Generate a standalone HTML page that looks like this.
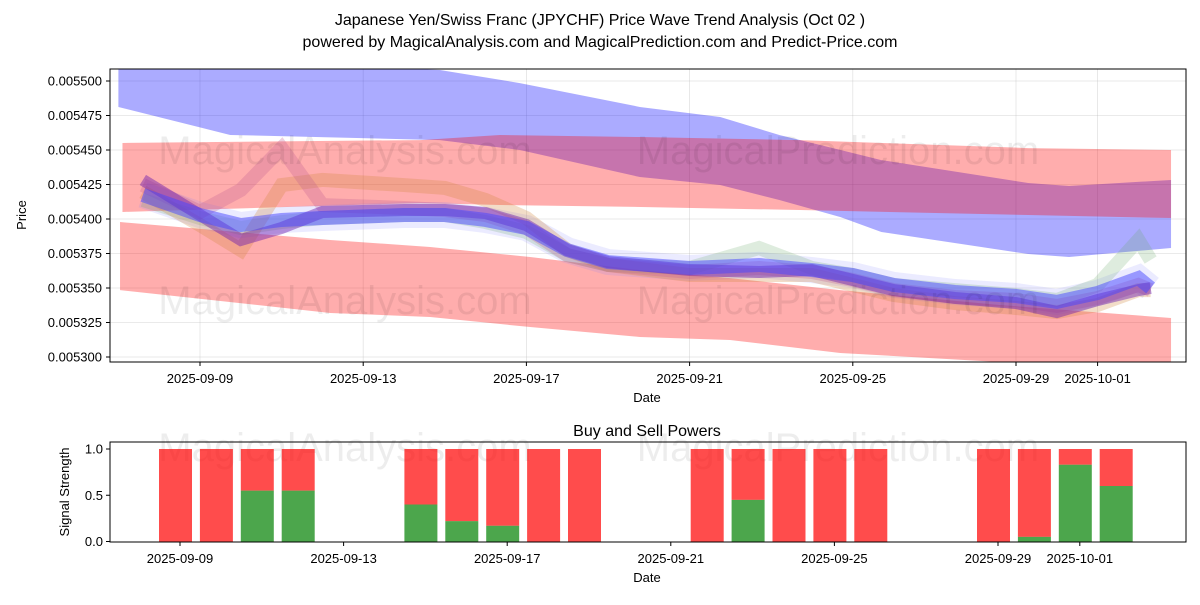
<!DOCTYPE html>
<html><head><meta charset="utf-8"><style>
body{margin:0;background:#fff;}
svg text{font-family:"Liberation Sans","DejaVu Sans",sans-serif;fill:#000;}
</style></head><body>
<svg id="chart" width="1200" height="600" xmlns="http://www.w3.org/2000/svg">
<rect width="1200" height="600" fill="#fff"/>
<text x="600" y="25" font-size="16" text-anchor="middle">Japanese Yen/Swiss Franc (JPYCHF) Price Wave Trend Analysis (Oct 02 )</text>
<text x="600" y="47" font-size="16" text-anchor="middle">powered by MagicalAnalysis.com and MagicalPrediction.com and Predict-Price.com</text>
<g id="topg"></g>
<g id="botg"></g>
</svg>
<script>
// ---- price chart data (days offset from 2025-09-09) ----
const blueBandDays=[-2.0,0.74,5.88,7.84,10.78,12.75,14.2,15.7,16.7,20.3,21.3,23.8];
const blueBandTop=[0.0055225,0.0055138,0.0055080,0.0054985,0.0054812,0.0054739,0.0054609,0.0054500,0.0054427,0.0054261,0.0054239,0.0054283];
const blueBandBot=[0.0054812,0.0054609,0.0054572,0.0054500,0.0054304,0.0054246,0.0054138,0.0054014,0.0053906,0.0053746,0.0053725,0.0053790];
const redUpDays=[-1.9,5.4,7.35,10.8,14.7,20.3,23.8];
const redUpTop=[0.0054551,0.0054572,0.0054609,0.0054594,0.0054572,0.0054514,0.0054500];
const redUpBot=[0.0054051,0.0054116,0.0054101,0.0054087,0.0054065,0.0054029,0.0054007];
const redLoDays=[-1.96,3.19,5.64,8.09,10.78,12.99,15.69,19.6,23.8];
const redLoTop=[0.0053978,0.0053848,0.0053797,0.0053725,0.0053630,0.0053572,0.0053485,0.0053377,0.0053283];
const redLoBot=[0.0053485,0.0053319,0.0053290,0.0053217,0.0053145,0.0053123,0.0053029,0.0052964,0.0052870];
const waveDays=[-1.4,0,1,2,3,5,6,7,8,9,10,12,13.7,15,16,17,18.5,20,21,22,23,23.3];
const waveGreen=[0.0054138,0.0054007,0.0053935,0.0053978,0.0054007,0.0054029,0.0054029,0.0053978,0.0053906,0.0053739,0.0053667,0.0053645,0.0053790,0.0053645,0.0053594,0.0053522,0.0053485,0.0053449,0.0053413,0.0053522,0.0053848,0.0053703];
const waveOrange=[0.0054196,0.0053956,0.0053775,0.0054246,0.0054283,0.0054246,0.0054225,0.0054138,0.0054007,0.0053775,0.0053667,0.0053594,0.0053594,0.0053594,0.0053522,0.0053449,0.0053391,0.0053355,0.0053326,0.0053377,0.0053485,0.0053485];
const wavePink=[0.0054246,0.0054051,0.0054210,0.0054514,0.0054101,0.0054080,0.0054065,0.0054029,0.0053935,0.0053739,0.0053667,0.0053616,0.0053645,0.0053616,0.0053558,0.0053485,0.0053435,0.0053413,0.0053370,0.0053428,0.0053522,0.0053485];
const wavePurple=[0.0054283,0.0054029,0.0053848,0.0053935,0.0054051,0.0054065,0.0054065,0.0054043,0.0053956,0.0053775,0.0053688,0.0053630,0.0053616,0.0053630,0.0053558,0.0053485,0.0053428,0.0053391,0.0053326,0.0053413,0.0053485,0.0053500];
const waveBlue=[0.0054174,0.0054029,0.0053956,0.0053993,0.0054007,0.0054029,0.0054029,0.0053993,0.0053935,0.0053775,0.0053688,0.0053645,0.0053667,0.0053630,0.0053594,0.0053522,0.0053471,0.0053442,0.0053399,0.0053464,0.0053572,0.0053500];
const yTicks=[0.0053,0.005325,0.00535,0.005375,0.0054,0.005425,0.00545,0.005475,0.0055];
const yTickLabels=["0.005300","0.005325","0.005350","0.005375","0.005400","0.005425","0.005450","0.005475","0.005500"];
const xTickDays=[0,4,8,12,16,20,22];
const xTickLabels=["2025-09-09","2025-09-13","2025-09-17","2025-09-21","2025-09-25","2025-09-29","2025-10-01"];
// ---- signal chart data ----
const barDays=[0,1,2,3,6,7,8,9,10,13,14,15,16,17,20,21,22,23];
const buyPower=[0,0,0.55,0.55,0.4,0.22,0.17,0,0,0,0.45,0,0,0,0,0.05,0.83,0.6];
const sigTicks=[0,0.5,1.0];
const sigTickLabels=["0.0","0.5","1.0"];

const NS="http://www.w3.org/2000/svg";
function mk(tag,attrs,parent){const e=document.createElementNS(NS,tag);for(const k in attrs)e.setAttribute(k,attrs[k]);parent.appendChild(e);return e;}
const topG=document.getElementById('topg'), botG=document.getElementById('botg');
const L=110,R=1186,T0=69,B0=362;
const xT=d=>200+40.8*d;
const yT=p=>357-(p-0.0053)/0.000025*34.5;
const xB=d=>180+40.9*d;
const yB=v=>541.5-v*92.5;

const cp=mk('clipPath',{id:'cp'},topG);
mk('rect',{x:L,y:T0,width:R-L,height:B0-T0},cp);
yTicks.forEach((p,i)=>{
  const g=mk('line',{x1:L,x2:R,y1:yT(p),y2:yT(p),stroke:'#b0b0b0','stroke-opacity':0.35,'stroke-width':0.8},topG);
  
  
  const tk=mk('line',{x1:L-4,x2:L,y1:yT(p),y2:yT(p),stroke:'#000'},topG);
  
  
  const t=mk('text',{x:L-8,y:yT(p)+4.5,'font-size':13,'text-anchor':'end'},topG);
  t.textContent=yTickLabels[i];
  
  
});
xTickDays.forEach((d,i)=>{
  const g=mk('line',{x1:xT(d),x2:xT(d),y1:T0,y2:B0,stroke:'#b0b0b0','stroke-opacity':0.35,'stroke-width':0.8},topG);
  
  
  const tk=mk('line',{x1:xT(d),x2:xT(d),y1:B0,y2:B0+4,stroke:'#000'},topG);
  
  
  const t=mk('text',{x:xT(d),y:B0+21,'font-size':13,'text-anchor':'middle'},topG);
  t.textContent=xTickLabels[i];
  
  
});
const plot=mk('g',{'clip-path':'url(#cp)'},topG);
function band(days,hi,lo,fill,name){
  let pts=days.map((d,i)=>xT(d)+','+yT(hi[i]));
  pts=pts.concat(days.map((d,i)=>xT(d)+','+yT(lo[i])).reverse());
  const p=mk('polygon',{points:pts.join(' '),fill:fill},plot);
  
  
}
band(blueBandDays,blueBandTop,blueBandBot,'rgba(0,0,255,0.33)','blue-band');
band(redUpDays,redUpTop,redUpBot,'rgba(255,0,0,0.32)','red-upper-band');
band(redLoDays,redLoTop,redLoBot,'rgba(255,0,0,0.32)','red-lower-band');
function wave(vals,color,w,op,name){
  const pts=waveDays.map((d,i)=>xT(d)+','+yT(vals[i])).join(' ');
  const p=mk('polyline',{points:pts,fill:'none',stroke:color,'stroke-width':w,'stroke-opacity':op,'stroke-linejoin':'miter','stroke-linecap':'butt'},plot);
  
  
}
wave(waveBlue,'#7a7aff',26,0.15,'wave-blue-halo');
wave(waveGreen,'#6aa86a',14,0.22,'wave-green');
wave(waveOrange,'#d0863a',14,0.28,'wave-orange');
wave(wavePink,'#c05a90',14,0.28,'wave-pink');
wave(wavePurple,'#6a1ab0',12,0.45,'wave-purple');
wave(waveBlue,'#4545ff',14,0.5,'wave-blue');
[[345,150,'MagicalAnalysis.com'],[838,150,'MagicalPrediction.com'],[345,300,'MagicalAnalysis.com'],[838,300,'MagicalPrediction.com']].forEach(w=>{
  const t=mk('text',{x:w[0],y:w[1]+14,'font-size':40,'text-anchor':'middle',style:'fill:rgba(0,0,0,0.07)'},topG);
  t.textContent=w[2];
  
  
});
const fr=mk('rect',{x:L,y:T0,width:R-L,height:B0-T0,fill:'none',stroke:'#000','stroke-width':1},topG);


let tx=mk('text',{x:647,y:402,'font-size':13,'text-anchor':'middle'},topG);tx.textContent='Date';


tx=mk('text',{x:26,y:215,'font-size':13,'text-anchor':'middle',transform:'rotate(-90 26 215)'},topG);tx.textContent='Price';



const T1=442,B1=542;
tx=mk('text',{x:647,y:436,'font-size':16,'text-anchor':'middle'},botG);tx.textContent='Buy and Sell Powers';


[[345,447,'MagicalAnalysis.com'],[838,447,'MagicalPrediction.com']].forEach(w=>{
  const m=mk('text',{x:w[0],y:w[1]+14,'font-size':40,'text-anchor':'middle',style:'fill:rgba(0,0,0,0.07)'},botG);
  m.textContent=w[2];
  
  
});
barDays.forEach((d,i)=>{
  const x=xB(d)-4.5-16.5;
  const r=mk('rect',{x:x,y:yB(1),width:33,height:yB(buyPower[i])-yB(1),fill:'rgba(255,0,0,0.7)'},botG);
  
  
  if(buyPower[i]>0){
    const g=mk('rect',{x:x,y:yB(buyPower[i]),width:33,height:yB(0)-yB(buyPower[i]),fill:'rgba(0,128,0,0.7)'},botG);
    
    
  }
});
sigTicks.forEach((v,i)=>{
  const tk=mk('line',{x1:L-4,x2:L,y1:yB(v),y2:yB(v),stroke:'#000'},botG);
  
  
  const s=mk('text',{x:L-7,y:yB(v)+4.5,'font-size':13,'text-anchor':'end'},botG);
  s.textContent=sigTickLabels[i];
  
  
});
xTickDays.forEach((d,i)=>{
  const tk=mk('line',{x1:xB(d),x2:xB(d),y1:B1,y2:B1+4,stroke:'#000'},botG);
  
  
  const s=mk('text',{x:xB(d),y:B1+21,'font-size':13,'text-anchor':'middle'},botG);
  s.textContent=xTickLabels[i];
  
  
});
const fr2=mk('rect',{x:L,y:T1,width:R-L,height:B1-T1,fill:'none',stroke:'#000','stroke-width':1},botG);


tx=mk('text',{x:647,y:582,'font-size':13,'text-anchor':'middle'},botG);tx.textContent='Date';


tx=mk('text',{x:69,y:492,'font-size':13,'text-anchor':'middle',transform:'rotate(-90 69 492)'},botG);tx.textContent='Signal Strength';


</script>
</body></html>
